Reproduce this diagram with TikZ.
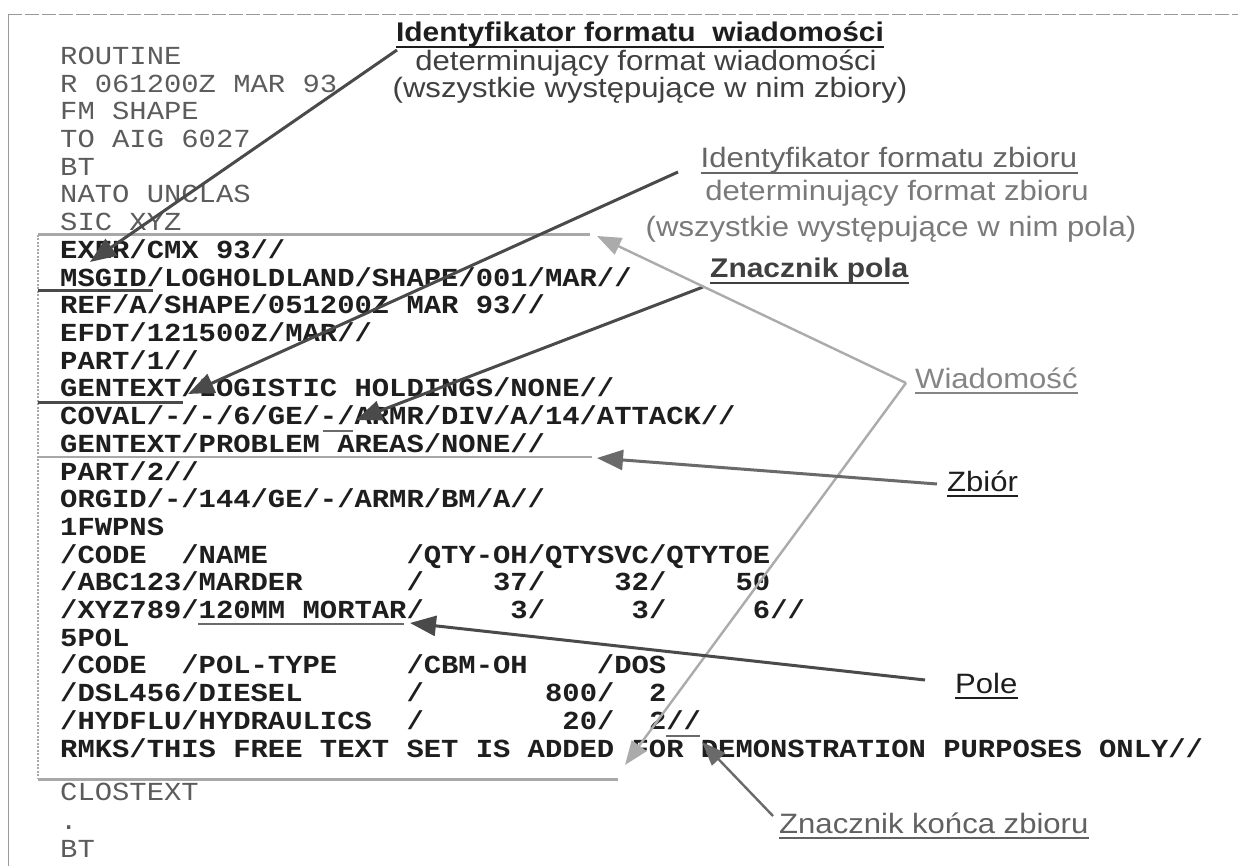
\documentclass[tikz,border=0pt]{standalone}
\usepackage{fontspec}
\setmainfont{Liberation Sans}[FakeStretch=1.11]
\newfontfamily\monof{Liberation Mono}[FakeStretch=1.11]
\usetikzlibrary{arrows.meta}
\definecolor{ink}{HTML}{1E1E1E}
\definecolor{hdrgray}{HTML}{5C5C5C}
\definecolor{boxgray}{HTML}{A8A8A8}
\definecolor{framegray}{HTML}{9A9A9A}
\definecolor{darkarrow}{HTML}{4A4A4A}
\definecolor{midarrow}{HTML}{6A6A6A}
\definecolor{lightarrow}{HTML}{ABABAB}
\newcommand\g[1]{\hspace*{#1\fontcharwd\font`x}}
\frenchspacing
\tikzset{
  hdr/.style={anchor=base west, inner sep=0pt, font=\monof\fontsize{26}{26}\selectfont, text=hdrgray},
  body/.style={anchor=base west, inner sep=0pt, font=\monof\bfseries\fontsize{26}{26}\selectfont, text=ink},
  lbl/.style={anchor=base west, inner sep=0pt, font=\fontsize{28}{30}\selectfont},
  lblc/.style={anchor=base, inner sep=0pt, font=\fontsize{28}{30}\selectfont},
  uline/.style={line width=1.2pt},
  mark/.style={line width=3pt, draw=#1},
  conn/.style={line width=3pt, draw=#1, -{Triangle[length=26pt,width=20pt,color=#1]}},
  connthin/.style={line width=2.4pt, draw=#1, -{Triangle[length=24pt,width=18pt,color=#1]}},
}
\begin{document}
\begin{tikzpicture}[x=1pt,y=-1pt]
\useasboundingbox (0,0) rectangle (1238,866);
\fill[white] (0,0) rectangle (1238,866);
% outer frame
\draw[framegray, line width=0.8pt, dash pattern=on 14pt off 3pt] (8,14) -- (1238,14);
\draw[framegray, line width=0.8pt] (8,14) -- (8,866);

% header lines
\node[hdr] (h0) at (60,64.5) {ROUTINE};
\node[hdr] (h1) at (60,92.2) {R 061200Z MAR 93};
\node[hdr] (h2) at (60,119.9) {FM SHAPE};
\node[hdr] (h3) at (60,147.6) {TO AIG 6027};
\node[hdr] (h4) at (60,175.3) {BT};
\node[hdr] (h5) at (60,203.0) {NATO UNCLAS};
\node[hdr] (h6) at (60,230.7) {SIC XYZ};
% body lines
\node[body] (b7) at (60,258.4) {EXER/CMX 93//};
\node[body] (b8) at (60,286.1) {MSGID/LOGHOLDLAND/SHAPE/001/MAR//};
\node[body] (b9) at (60,313.8) {REF/A/SHAPE/051200Z MAR 93//};
\node[body] (b10) at (60,341.5) {EFDT/121500Z/MAR//};
\node[body] (b11) at (60,369.2) {PART/1//};
\node[body] (b12) at (60,396.9) {GENTEXT/LOGISTIC HOLDINGS/NONE//};
\node[body] (b13) at (60,424.6) {COVAL/-/-/6/GE/-/ARMR/DIV/A/14/ATTACK//};
\node[body] (b14) at (60,452.3) {GENTEXT/PROBLEM AREAS/NONE//};
\node[body] (b15) at (60,480.0) {PART/2//};
\node[body] (b16) at (60,507.7) {ORGID/-/144/GE/-/ARMR/BM/A//};
\node[body] (b17) at (60,535.4) {1FWPNS};
\node[body] (b18) at (60,563.1) {/CODE\g{2}/NAME\g{8}/QTY-OH/QTYSVC/QTYTOE};
\node[body] (b19) at (60,590.8) {/ABC123/MARDER\g{6}/\g{4}37/\g{4}32/\g{4}50};
\node[body] (b20) at (60,618.5) {/XYZ789/120MM\g{1}MORTAR/\g{5}3/\g{5}3/\g{5}6//};
\node[body] (b21) at (60,646.2) {5POL};
\node[body] (b22) at (60,673.9) {/CODE\g{2}/POL-TYPE\g{4}/CBM-OH\g{4}/DOS};
\node[body] (b23) at (60,701.6) {/DSL456/DIESEL\g{6}/\g{7}800/\g{2}2};
\node[body] (b24) at (60,729.3) {/HYDFLU/HYDRAULICS\g{2}/\g{8}20/\g{2}2//};
\node[body] (b25) at (60,757.0) {RMKS/THIS FREE TEXT SET IS ADDED FOR DEMONSTRATION PURPOSES ONLY//};
% trailer
\node[hdr] (t26) at (60,800) {CLOSTEXT};
\node[hdr] (t27) at (60,829) {.};
\node[hdr] (t28) at (60,857) {BT};

% message box (Wiadomosc) and set divider
\draw[boxgray, line width=3pt] (38,235) -- (590,235);
\draw[boxgray, line width=2.5pt] (38,457) -- (592,457);
\draw[boxgray, line width=3pt] (38,779) -- (618,779);
\draw[boxgray, line width=1.5pt, dash pattern=on 2pt off 1.5pt] (38,235) -- (38,779);

% underlines in text
\draw[mark=darkarrow] (38,291) -- (153,291);
\draw[mark=darkarrow] (38,402) -- (183,402);
\draw[line width=2pt, draw=midarrow] (323,431) -- (353,431);
\draw[line width=2.2pt, draw=midarrow] (198,624) -- (404,624);
\draw[line width=2pt, draw=midarrow] (666,736) -- (700,736);

% labels
\node[lblc, font=\bfseries\fontsize{27}{30}\selectfont, text=ink] (t1a) at (640,42) {Identyfikator formatu\ \ wiadomości};
\node[lblc, text=ink!85] (t1b) at (646,71) {determinujący format wiadomości};
\node[lblc, text=ink!85] (t1c) at (650,98) {(wszystkie występujące w nim zbiory)};
\node[lblc, text=black!60] (t2a) at (889,168) {Identyfikator formatu zbioru};
\node[lblc, text=black!52] (t2b) at (897,201) {determinujący format zbioru};
\node[lblc, text=black!52] (t2c) at (891,237) {(wszystkie występujące w nim pola)};
\node[lbl, font=\bfseries\fontsize{27}{30}\selectfont, text=black!75] (zp) at (710,278) {Znacznik pola};
\node[lbl, text=black!48] (wia) at (915,388) {Wiadomość};
\node[lbl, text=ink] (zb) at (947,491) {Zbiór};
\node[lbl, text=ink] (pole) at (955,693) {Pole};
\node[lbl, text=black!62] (kon) at (779,833) {Znacznik końca zbioru};

% label underlines
\draw[uline, ink] ([yshift=-5pt]t1a.base west) -- ([yshift=-5pt]t1a.base east);
\draw[uline, black!60] ([yshift=-5pt]t2a.base west) -- ([yshift=-5pt]t2a.base east);
\draw[uline, black!75] ([yshift=-5pt]zp.base west) -- ([yshift=-5pt]zp.base east);
\draw[uline, black!48] ([yshift=-5pt]wia.base west) -- ([yshift=-5pt]wia.base east);
\draw[uline, ink] ([yshift=-5pt]zb.base west) -- ([yshift=-5pt]zb.base east);
\draw[uline, ink] ([yshift=-5pt]pole.base west) -- ([yshift=-5pt]pole.base east);
\draw[uline, black!62] ([yshift=-5pt]kon.base west) -- ([yshift=-5pt]kon.base east);

% connector end points
\coordinate (a1s) at (397,50);   \coordinate (a1t) at (90,262);
\coordinate (a2s) at (678,172);  \coordinate (a2t) at (188,394);
\coordinate (a3s) at (703,287);  \coordinate (a3t) at (356,420);
\coordinate (ws)  at (906,383);
\coordinate (w1t) at (597,236);  \coordinate (w2t) at (625,765);
\coordinate (zbs) at (937,484);  \coordinate (zbt) at (597,458);
\coordinate (pls) at (925,680);  \coordinate (plt) at (410,623);
\coordinate (kos) at (773,816);  \coordinate (kot) at (702,742);

% connectors
\draw[conn=darkarrow] (a1s) -- (a1t);
\draw[conn=darkarrow] (a2s) -- (a2t);
\draw[conn=darkarrow] (a3s) -- (a3t);
\draw[connthin=lightarrow] (ws) -- (w1t);
\draw[connthin=lightarrow] (ws) -- (w2t);
\draw[conn=midarrow] (zbs) -- (zbt);
\draw[conn=darkarrow] (pls) -- (plt);
\draw[connthin=midarrow] (kos) -- (kot);
\end{tikzpicture}
\end{document}
